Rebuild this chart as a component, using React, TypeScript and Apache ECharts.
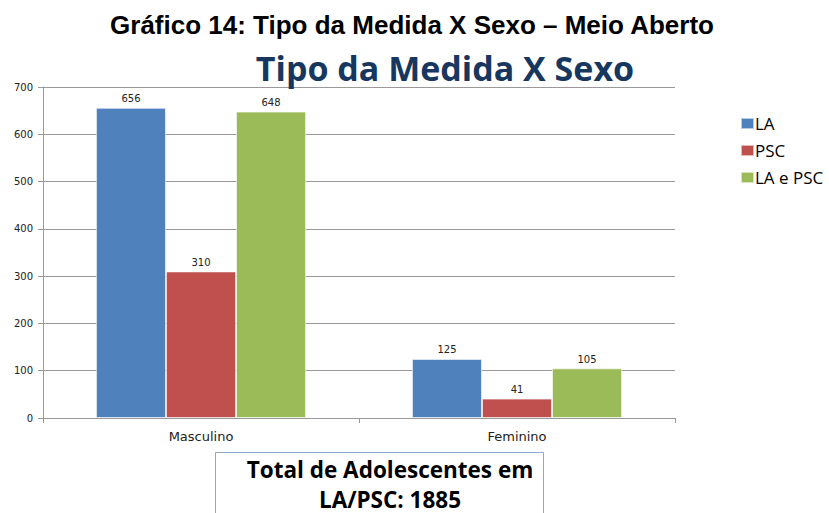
import React, { useEffect, useRef } from "react";
import * as echarts from "echarts";

const categories = ["Masculino", "Feminino"];
const seriesNames = ["LA", "PSC", "LA e PSC"];
const laValues = [656, 125];
const pscValues = [310, 41];
const bothValues = [648, 105];
const colors = ["#4F81BD", "#C0504D", "#9BBB59"];
const totalText = "Total de Adolescentes em\nLA/PSC: 1885";

export default function App() {
  const ref = useRef<HTMLDivElement>(null);
  useEffect(() => {
    const chart = echarts.init(ref.current!, null, { renderer: "svg" });
    const values = [laValues, pscValues, bothValues];
    chart.setOption({
      animation: false,
      backgroundColor: "#ffffff",
      title: [
        {
          text: "Gráfico 14: Tipo da Medida X Sexo – Meio Aberto",
          left: 407,
          textAlign: "center",
          top: 7,
          textStyle: { fontFamily: "Liberation Sans, Arial", fontWeight: "bold", fontSize: 26, color: "#000" },
        },
        {
          text: "Tipo da Medida X Sexo",
          left: 440,
          textAlign: "center",
          top: 46,
          textStyle: { fontFamily: "Open Sans, Lato", fontWeight: "bold", fontSize: 34, color: "#17375E" },
        },
      ],
      legend: {
        orient: "vertical",
        left: 735,
        top: 110,
        itemWidth: 13,
        itemHeight: 11,
        itemGap: 10,
        icon: "rect",
        textStyle: { fontFamily: "Open Sans, Lato", fontSize: 17, color: "#000", padding: [0, 0, 0, -4] },
        data: seriesNames,
      },
      grid: { left: 43, right: 154, top: 87, bottom: 95, containLabel: false },
      xAxis: {
        type: "category",
        data: categories,
        axisLine: { lineStyle: { color: "#999" } },
        axisTick: { show: true, lineStyle: { color: "#999" }, length: 5 },
        axisLabel: { fontFamily: "DejaVu Sans", fontSize: 13, color: "#222", margin: 12 },
      },
      yAxis: {
        type: "value",
        min: 0,
        max: 700,
        interval: 100,
        axisLine: { show: true, lineStyle: { color: "#999" } },
        axisTick: { show: true, lineStyle: { color: "#999" }, length: 5 },
        splitLine: { lineStyle: { color: "#999" } },
        axisLabel: { fontFamily: "DejaVu Sans", fontSize: 10, color: "#222", margin: 10 },
      },
      series: seriesNames.map((name, i) => ({
        name,
        type: "bar",
        data: values[i],
        barGap: "0%",
        barCategoryGap: "33.5%",
        itemStyle: { color: colors[i], borderColor: "rgba(255,255,255,0.6)", borderWidth: 1 },
        label: { show: true, position: "top", fontFamily: "DejaVu Sans", fontSize: 10, color: "#222", distance: 4 },
      })),
      graphic: [
        {
          type: "rect",
          shape: { x: 215.5, y: 452.5, width: 328, height: 70 },
          style: { fill: "#fff", stroke: "#8EA9C8", lineWidth: 1 },
        },
        {
          type: "text",
          x: 390,
          y: 454,
          style: {
            text: totalText,
            fontFamily: "Open Sans, Lato",
            fontWeight: "bold",
            fontSize: 22.5,
            lineHeight: 30,
            textAlign: "center",
            fill: "#000",
          },
        },
      ],
    });
    return () => chart.dispose();
  }, []);
  return <div ref={ref} style={{ width: 829, height: 513, position: "absolute", left: 0, top: 0 }} />;
}
